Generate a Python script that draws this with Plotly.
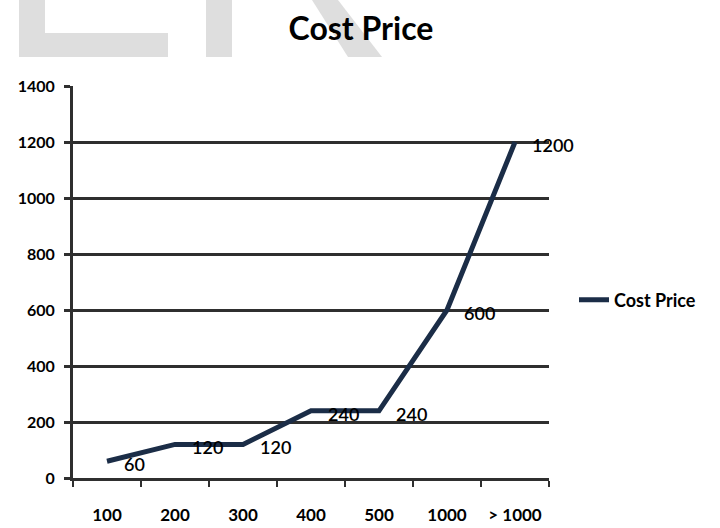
import plotly.graph_objects as go

categories = ["100", "200", "300", "400", "500", "1000", "> 1000"]
cost_price = [60, 120, 120, 240, 240, 600, 1200]
y_ticks = [0, 200, 400, 600, 800, 1000, 1200, 1400]

FONT = "Lato"
LINE_COLOR = "#1b2d47"
GRID = "#2f2f2f"

fig = go.Figure()
fig.add_trace(go.Scatter(
    x=categories, y=cost_price, mode="lines", name="Cost Price",
    line=dict(color=LINE_COLOR, width=5),
))

annotations = []
for i, v in enumerate(cost_price):
    annotations.append(dict(
        x=i, y=v, xref="x", yref="y", text=str(v), showarrow=False,
        xanchor="left", yanchor="middle", xshift=15, yshift=-3,
        font=dict(family=FONT, size=18, color="#000000", weight=600),
    ))

# light gray watermark shapes (decoration)
PL, PR, PT, PB = 73, 549, 86, 478
def px(xp):
    return (xp - PL) / (PR - PL)
def py(yp):
    return (PB - yp) / (PB - PT)

shapes = []
wm = "#dedede"
shapes.append(dict(type="rect", xref="paper", yref="paper", layer="below",
                   x0=px(19), x1=px(45), y0=py(57), y1=py(0), fillcolor=wm, line=dict(width=0)))
shapes.append(dict(type="rect", xref="paper", yref="paper", layer="below",
                   x0=px(19), x1=px(168), y0=py(57), y1=py(33), fillcolor=wm, line=dict(width=0)))
shapes.append(dict(type="rect", xref="paper", yref="paper", layer="below",
                   x0=px(206), x1=px(232), y0=py(57), y1=py(0), fillcolor=wm, line=dict(width=0)))
path = "M {:.4f} {:.4f} L {:.4f} {:.4f} L {:.4f} {:.4f} L {:.4f} {:.4f} Z".format(
    px(312), py(0), px(338), py(0), px(382), py(57), px(348), py(57))
shapes.append(dict(type="path", xref="paper", yref="paper", layer="below",
                   path=path, fillcolor=wm, line=dict(width=0)))

fig.update_layout(
    width=720, height=528,
    margin=dict(l=PL, r=720 - PR, t=PT, b=528 - PB, pad=0, autoexpand=False),
    paper_bgcolor="white", plot_bgcolor="white",
    title=dict(text="Cost Price", x=361 / 720, xref="container", xanchor="center",
               y=1 - 29 / 528, yref="container", yanchor="middle",
               font=dict(family=FONT, size=32, color="#000000", weight="bold")),
    font=dict(family=FONT, color="#000000"),
    showlegend=True,
    legend=dict(x=px(574), y=py(300), xanchor="left", yanchor="middle",
                font=dict(family=FONT, size=18, color="#000000", weight="bold"),
                itemwidth=30, bgcolor="rgba(0,0,0,0)"),
    annotations=annotations,
    shapes=shapes,
)
fig.update_xaxes(
    type="category", range=[-0.5, 6.5], showgrid=False,
    showline=True, linecolor=GRID, linewidth=3,
    ticks="outside", tickson="boundaries", ticklen=6, tickwidth=2, tickcolor=GRID,
    ticklabelstandoff=20, automargin=False,
    tickfont=dict(family=FONT, size=17, color="#000000", weight="bold"),
    zeroline=False, fixedrange=True,
)
fig.update_yaxes(
    range=[0, 1400], tickvals=y_ticks, showgrid=True, gridcolor=GRID, gridwidth=3,
    showline=True, linecolor=GRID, linewidth=3,
    ticks="outside", ticklen=6, tickwidth=3, tickcolor=GRID,
    ticklabelstandoff=6, automargin=False,
    tickfont=dict(family=FONT, size=16, color="#000000", weight="bold"),
    zeroline=False,
)

fig.write_html("out.html")
